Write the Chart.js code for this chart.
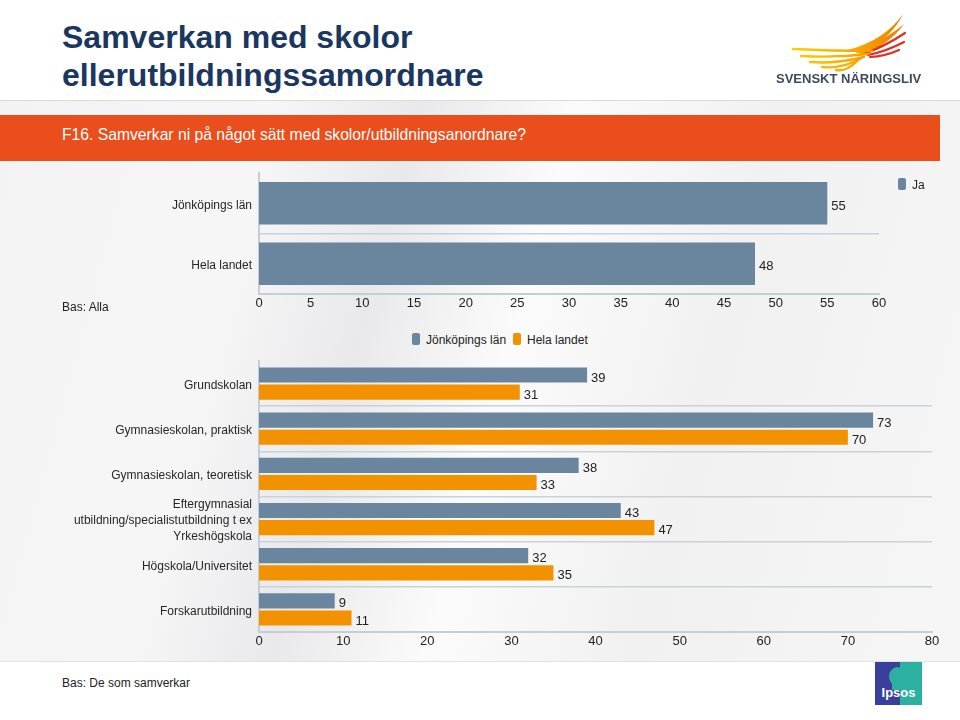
<!DOCTYPE html>
<html>
<head>
<meta charset="utf-8">
<script src="https://cdn.jsdelivr.net/npm/chart.js@4.4.0/dist/chart.umd.min.js"></script>
<style>
html,body{margin:0;padding:0;width:960px;height:720px;overflow:hidden;background:#fff;font-family:"Liberation Sans",Arial,sans-serif;}
#page{position:relative;width:960px;height:720px;}
.abs{position:absolute;}
#bg{left:0;top:100px;width:960px;height:562px;box-sizing:border-box;border-top:1px solid #d6dce3;border-bottom:1px solid #dde2e8;
 background:linear-gradient(105deg,#f3f3f4 0%,#f6f6f7 25%,#e9e9eb 38%,#fbfbfb 52%,#f1f1f2 70%,#f6f6f6 100%);}
#title{left:62px;top:18px;font-size:32px;line-height:38px;font-weight:bold;color:#1b3760;white-space:nowrap;}
#banner{left:0;top:115px;width:940px;height:46px;background:#ea4e1d;}
#bannerText{left:62px;top:126px;font-size:15.7px;line-height:18px;color:#fff;white-space:nowrap;}
.note{font-size:12px;line-height:14px;color:#222;white-space:nowrap;}
.leg{font-size:12px;line-height:14px;color:#222;white-space:nowrap;}
.sw{position:absolute;width:8px;height:12px;border-radius:2px;}
#logoText{left:776px;top:71px;font-size:13px;line-height:15px;font-weight:bold;color:#3e4a5b;white-space:nowrap;}
</style>
</head>
<body>
<div id="page">
  <div id="bg" class="abs"></div>
  <div id="title" class="abs">Samverkan med skolor<br>ellerutbildningssamordnare</div>
  <canvas id="logo" class="abs" width="200" height="100" style="left:760px;top:0;"></canvas>
  <div id="logoText" class="abs">SVENSKT NÄRINGSLIV</div>
  <div id="banner" class="abs"></div>
  <div id="bannerText" class="abs">F16. Samverkar ni på något sätt med skolor/utbildningsanordnare?</div>

  <div class="abs" style="left:0;top:158px;width:960px;height:157px;"><canvas id="c1" width="960" height="157"></canvas></div>
  <div class="abs note" style="left:62px;top:300px;">Bas: Alla</div>
  <div id="legend1" class="abs leg" style="left:898px;top:178px;"></div>

  <div id="legend2" class="abs leg" style="left:412px;top:333px;"></div>
  <div class="abs" style="left:0;top:346px;width:960px;height:309px;"><canvas id="c2" width="960" height="309"></canvas></div>

  <div class="abs note" style="left:62px;top:676px;">Bas: De som samverkar</div>
  <div class="abs" style="left:875px;top:662px;width:47px;height:43px;background:#3b3f9c;overflow:hidden;">
    <div class="abs" style="left:25px;top:0;width:22px;height:43px;background:#2bb0a1;"></div>
    <div class="abs" style="left:14px;top:5px;width:17px;height:19px;border-radius:50%;background:#2bb0a1;"></div>
    <div class="abs" style="left:17px;top:20px;width:10px;height:8px;background:#2bb0a1;"></div>
    <div class="abs" style="left:0;top:23px;width:47px;text-align:center;font-size:13px;line-height:15px;font-weight:bold;color:#fff;">Ipsos</div>
  </div>
</div>
<script>
// ---------- data ----------
const topCategories = ['Jönköpings län', 'Hela landet'];
const topSeriesName = 'Ja';
const topValues = [55, 48];
const topAxisMin = 0, topAxisMax = 60, topAxisStep = 5;

const categories = [
  'Grundskolan',
  'Gymnasieskolan, praktisk',
  'Gymnasieskolan, teoretisk',
  ['Eftergymnasial', 'utbildning/specialistutbildning t ex', 'Yrkeshögskola'],
  'Högskola/Universitet',
  'Forskarutbildning'
];
const seriesNames = ['Jönköpings län', 'Hela landet'];
const jonkopingValues = [39, 73, 38, 43, 32, 9];
const helaLandetValues = [31, 70, 33, 47, 35, 11];
const axisMin = 0, axisMax = 80, axisStep = 10;

// ---------- styles ----------
const FAMILY = '"Liberation Sans", Arial, sans-serif';
const BLUE = '#6a869f';
const ORANGE = '#f39200';
const AXIS = '#c4ced9';
const GRID = '#c9d1da';

const valueLabels = {
  id: 'valueLabels',
  afterDatasetsDraw(chart) {
    const ctx = chart.ctx;
    ctx.save();
    ctx.font = '13px ' + FAMILY;
    ctx.fillStyle = '#222';
    ctx.textBaseline = 'middle';
    ctx.textAlign = 'left';
    chart.data.datasets.forEach((ds, i) => {
      const meta = chart.getDatasetMeta(i);
      meta.data.forEach((el, j) => {
        ctx.fillText(String(ds.data[j]), el.x + 4, el.y + 3);
      });
    });
    ctx.restore();
  }
};

function yScale(w) {
  return {
    type: 'category',
    offset: true,
    grid: { offset: true, drawTicks: false, lineWidth: 1.5,
      color: c => (c.index === 0 ? 'rgba(0,0,0,0)' : GRID) },
    border: { display: true, color: AXIS, width: 2 },
    ticks: { color: '#262626', font: { size: 12, family: FAMILY, lineHeight: 1.33 }, padding: 7, labelOffset: 2, autoSkip: false },
    afterFit(s) { s.width = w; }
  };
}
function xScale(min, max, step) {
  return {
    type: 'linear', min: min, max: max,
    grid: { display: false, drawTicks: false },
    border: { display: true, color: AXIS, width: 2 },
    ticks: { stepSize: step, color: '#222', font: { size: 13, family: FAMILY }, padding: 2 },
    afterFit(s) { s.height = 20; }
  };
}

Chart.defaults.font.family = FAMILY;

new Chart(document.getElementById('c1'), {
  type: 'bar',
  data: {
    labels: topCategories,
    datasets: [{ label: topSeriesName, data: topValues, backgroundColor: BLUE,
      categoryPercentage: 0.7, barPercentage: 1.0 }]
  },
  options: {
    indexAxis: 'y', responsive: false, animation: false,
    layout: { padding: { top: 0, right: 81, bottom: 1, left: 0 } },
    plugins: { legend: { display: false }, tooltip: { enabled: false } },
    scales: { y: yScale(259), x: xScale(topAxisMin, topAxisMax, topAxisStep) }
  },
  plugins: [valueLabels]
});

new Chart(document.getElementById('c2'), {
  type: 'bar',
  data: {
    labels: categories,
    datasets: [
      { label: seriesNames[0], data: jonkopingValues, backgroundColor: BLUE, categoryPercentage: 0.76, barPercentage: 0.88 },
      { label: seriesNames[1], data: helaLandetValues, backgroundColor: ORANGE, categoryPercentage: 0.76, barPercentage: 0.88 }
    ]
  },
  options: {
    indexAxis: 'y', responsive: false, animation: false,
    layout: { padding: { top: 0, right: 28, bottom: 3, left: 0 } },
    plugins: { legend: { display: false }, tooltip: { enabled: false } },
    scales: { y: yScale(259), x: xScale(axisMin, axisMax, axisStep) }
  },
  plugins: [valueLabels]
});

// ---------- html legends ----------
function legendItem(name, color, leftPx) {
  return '<span style="position:absolute;left:' + leftPx + 'px;top:0;">' +
    '<span class="sw" style="left:0;top:0;background:' + color + ';"></span>' +
    '<span style="position:absolute;left:14px;top:0;">' + name + '</span></span>';
}
document.getElementById('legend1').innerHTML = legendItem(topSeriesName, BLUE, 0);
document.getElementById('legend2').innerHTML = legendItem(seriesNames[0], BLUE, 0) + legendItem(seriesNames[1], ORANGE, 101);

// ---------- logo decoration ----------
(function () {
  const ctx = document.getElementById('logo').getContext('2d');
  const ox = 760;
  ctx.lineCap = 'round';
  const g = ctx.createLinearGradient(793 - ox, 0, 905 - ox, 0);
  g.addColorStop(0, '#fbd000'); g.addColorStop(0.55, '#f7a800'); g.addColorStop(1, '#f07c00');
  ctx.fillStyle = g;
  ctx.beginPath();
  ctx.moveTo(848 - ox, 50);
  ctx.quadraticCurveTo(885 - ox, 40, 903 - ox, 14);
  ctx.quadraticCurveTo(893 - ox, 36, 862 - ox, 54);
  ctx.closePath(); ctx.fill();
  ctx.beginPath();
  ctx.moveTo(855 - ox, 52);
  ctx.quadraticCurveTo(888 - ox, 38, 904 - ox, 24);
  ctx.quadraticCurveTo(893 - ox, 40, 866 - ox, 55);
  ctx.closePath(); ctx.fill();
  ctx.strokeStyle = '#d93228'; ctx.lineWidth = 2.2;
  [[866, 53, 905, 33], [868, 55, 904, 42], [870, 57, 899, 50]].forEach(p => {
    ctx.beginPath(); ctx.moveTo(p[0] - ox, p[1]);
    ctx.quadraticCurveTo((p[0] + p[2]) / 2 - ox, (p[1] + p[3]) / 2 + 3, p[2] - ox, p[3]); ctx.stroke();
  });
  ctx.strokeStyle = g; ctx.lineWidth = 2.4;
  [[793, 49, 872, 51], [801, 56, 868, 54], [810, 62, 864, 57], [822, 67, 860, 59], [836, 70, 857, 61]].forEach(p => {
    ctx.beginPath(); ctx.moveTo(p[0] - ox, p[1]);
    ctx.quadraticCurveTo((p[0] + p[2]) / 2 - ox, p[1] + 2, p[2] - ox, p[3]); ctx.stroke();
  });
})();
</script>
</body>
</html>
